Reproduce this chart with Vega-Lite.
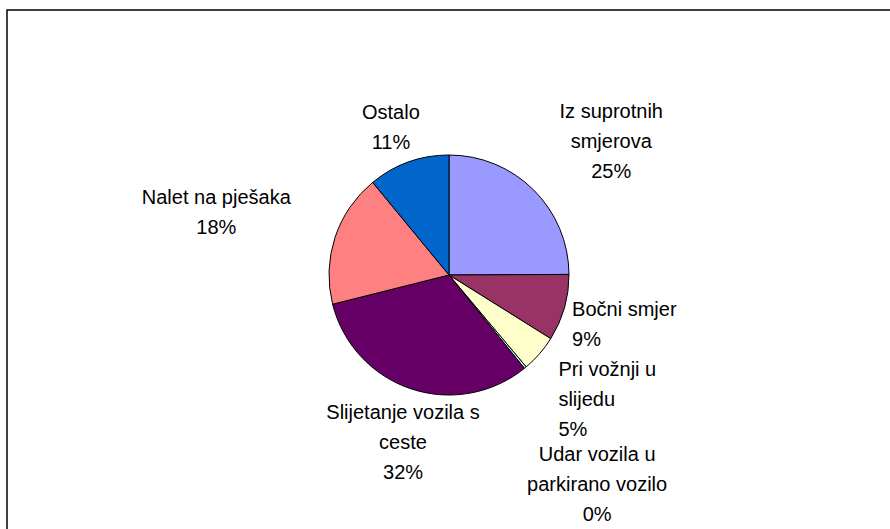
{
  "$schema": "https://vega.github.io/schema/vega-lite/v6.json",
  "width": 884,
  "height": 530,
  "autosize": {"type": "none"},
  "padding": {"left": 7, "top": 10, "right": 0, "bottom": 0},
  "background": "white",
  "config": {"view": {"stroke": null}},
  "data": {
    "values": [
      {"rank": 1, "cat": "Iz suprotnih smjerova", "value": 25, "label": "Iz suprotnih\nsmjerova\n25%"},
      {"rank": 2, "cat": "Bočni smjer", "value": 9, "label": "Bočni smjer\n9%"},
      {"rank": 3, "cat": "Pri vožnji u slijedu", "value": 5, "label": "Pri vožnji u\nslijedu\n5%"},
      {"rank": 4, "cat": "Udar vozila u parkirano vozilo", "value": 0.3, "label": "Udar vozila u\nparkirano vozilo\n0%"},
      {"rank": 5, "cat": "Slijetanje vozila s ceste", "value": 32, "label": "Slijetanje vozila s\nceste\n32%"},
      {"rank": 6, "cat": "Nalet na pješaka", "value": 18, "label": "Nalet na pješaka\n18%"},
      {"rank": 7, "cat": "Ostalo", "value": 11, "label": "Ostalo\n11%"}
    ]
  },
  "layer": [
    {
      "data": {"values": [{"frame": "chart area"}]},
      "mark": {"type": "rect", "fill": null, "stroke": "#000000", "strokeWidth": 1.5},
      "encoding": {}
    },
    {
      "mark": {"type": "arc", "outerRadius": 120, "stroke": "#000000", "strokeWidth": 1},
      "encoding": {
        "theta": {"field": "value", "type": "quantitative", "stack": true},
        "order": {"field": "rank", "type": "quantitative"},
        "color": {
          "field": "cat",
          "type": "nominal",
          "scale": {
            "domain": ["Iz suprotnih smjerova", "Bočni smjer", "Pri vožnji u slijedu", "Udar vozila u parkirano vozilo", "Slijetanje vozila s ceste", "Nalet na pješaka", "Ostalo"],
            "range": ["#9999FF", "#993366", "#FFFFCC", "#CCFFFF", "#660066", "#FF8080", "#0066CC"]
          },
          "legend": null
        }
      }
    },
    {
      "mark": {
        "type": "text",
        "font": "Liberation Sans",
        "fontSize": 20,
        "lineHeight": 30,
        "lineBreak": "\n",
        "color": "#000000",
        "align": {"expr": "datum.value_start >= 24.9 && datum.value_end <= 39.1 ? 'left' : 'center'"},
        "baseline": "middle"
      },
      "encoding": {
        "theta": {"field": "value", "type": "quantitative", "stack": true},
        "order": {"field": "rank", "type": "quantitative"},
        "radius": {
          "field": "value",
          "type": "quantitative",
          "scale": {"type": "linear", "zero": false, "nice": false, "domain": [0.3, 5, 9, 11, 18, 25, 32], "range": [233, 145, 128, 172, 245, 230, 145]}
        },
        "text": {"field": "label", "type": "nominal"}
      }
    }
  ]
}
